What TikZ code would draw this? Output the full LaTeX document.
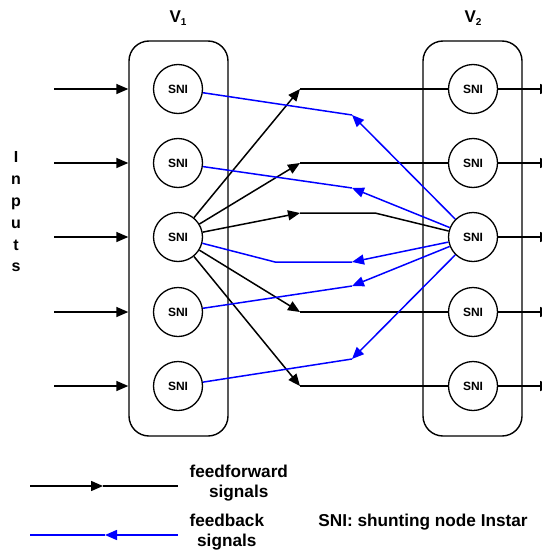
\documentclass[tikz,border=0pt]{standalone}
\usepackage{fontspec}
\setmainfont{Liberation Sans}
\usetikzlibrary{arrows.meta}
\begin{document}
\begin{tikzpicture}[x=1pt,y=-1pt,
  every node/.style={font=\bfseries},
  sni/.style={circle,draw,line width=1.3pt,minimum size=49pt,inner sep=0pt,
    font=\bfseries\fontsize{12}{12}\selectfont},
  layer/.style={draw,line width=1.4pt,rounded corners=20pt,
    minimum width=99pt,minimum height=395pt,inner sep=0pt},
  ff/.style={line width=1.5pt,black},
  fb/.style={line width=1.5pt,blue},
  arr/.style={-{Triangle[length=12pt,width=10pt]}},
  lbl/.style={font=\bfseries\fontsize{17.2}{19.5}\selectfont},
]
\useasboundingbox (0,0) rectangle (541,554);

% the two layers
\node[layer] (L1) at (178.5,238.5) {};
\node[layer] (L2) at (472.5,238.5) {};
\node[font=\bfseries\fontsize{17}{17}\selectfont] (v1) at (178,18)
  {V\raisebox{-3pt}{\fontsize{10}{10}\selectfont 1}};
\node[font=\bfseries\fontsize{17}{17}\selectfont] (v2) at (473,18)
  {V\raisebox{-3pt}{\fontsize{10}{10}\selectfont 2}};

% shunting nodes, inputs and outputs
\foreach \i/\y in {1/89,2/163,3/237,4/312,5/386} {
  \node[sni] (a\i) at (178,\y) {SNI};
  \node[sni] (b\i) at (473,\y) {SNI};
  \coordinate (in\i) at (54,\y);
  \coordinate (out\i) at (552,\y);
  \draw[ff,arr] (in\i) -- (in\i -| L1.west);
  \draw[ff,arr] (b\i) -- (out\i);
}
\node[font=\bfseries\fontsize{16}{21.8}\selectfont,align=center] (inputs) at (16,212)
  {I\\n\\p\\u\\t\\s};

% feedforward connections
\coordinate (f1) at (300,89);
\coordinate (f2) at (300,163);
\coordinate (f3) at (300,213);
\coordinate (g3) at (375,213);
\coordinate (f4) at (300,312);
\coordinate (f5) at (300,386);
\foreach \i in {1,...,5} { \draw[ff,arr] (a3) -- (f\i); }
\foreach \i in {1,2,4,5} { \draw[ff] (f\i) -- (b\i); }
\draw[ff] (f3) -- (g3) -- (b3);

% feedback connections
\coordinate (k1) at (352,115);
\coordinate (k2) at (352,188);
\coordinate (k3) at (352,262);
\coordinate (m3) at (275,262);
\coordinate (k4) at (352,286);
\coordinate (k5) at (352,359);
\foreach \i in {1,...,5} { \draw[fb,arr] (b3) -- (k\i); }
\foreach \i in {1,2,4,5} { \draw[fb] (k\i) -- (a\i); }
\draw[fb] (k3) -- (m3) -- (a3);

% legend
\coordinate (ffa) at (30,486);
\coordinate (ffm) at (103,486);
\coordinate (ffb) at (178,486);
\draw[ff,arr] (ffa) -- (ffm);
\draw[ff] (ffm) -- (ffb);
\coordinate (fba) at (178,535);
\coordinate (fbm) at (105,535);
\coordinate (fbb) at (30,535);
\draw[fb,arr] (fba) -- (fbm);
\draw[fb] (fbm) -- (fbb);
\node[lbl,align=center,anchor=west] (fft) at (186,483) {feedforward\\signals};
\node[lbl,align=center,anchor=west] (fbt) at (186,532) {feedback\\signals};
\node[lbl] (snil) at (423,522) {SNI: shunting node Instar};
\end{tikzpicture}
\end{document}
